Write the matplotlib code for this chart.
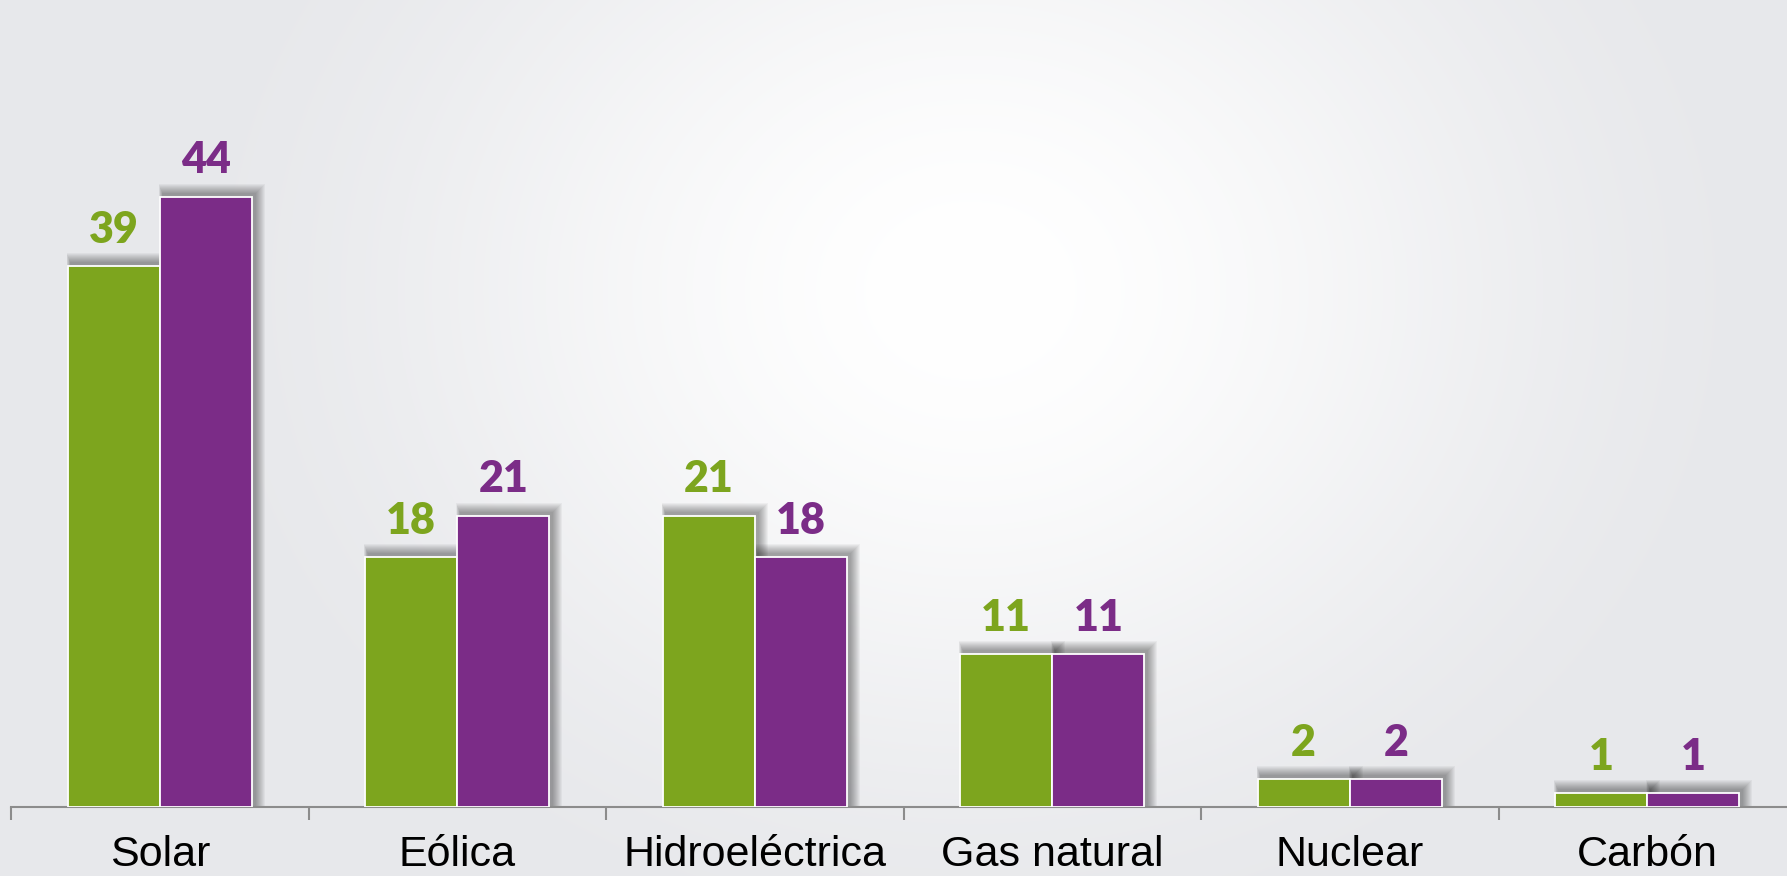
import numpy as np
import matplotlib
matplotlib.use('Agg')
import matplotlib.pyplot as plt
from matplotlib.patches import Rectangle

# Данные
categories = ['Solar', 'Eólica', 'Hidroeléctrica', 'Gas natural', 'Nuclear', 'Carbón']
serie_verde = [39, 18, 21, 11, 2, 1]
serie_morada = [44, 21, 18, 11, 2, 1]

verde = '#7DA51E'
morado = '#7B2C87'

W, H, DPI = 1787, 876, 100
fig = plt.figure(figsize=(W / DPI, H / DPI), dpi=DPI)

# Fondo con degradado radial
bg = fig.add_axes([0, 0, 1, 1])
yy, xx = np.mgrid[0:H, 0:W]
d = np.sqrt(((xx - 970) / 850.0) ** 2 + ((yy - 290) / 720.0) ** 2)
t = np.clip(d, 0, 1)
t = t * t * (3 - 2 * t)
borde = np.array([231, 232, 235]) / 255.0
img = 1 - t[..., None] * (1 - borde)
bg.imshow(img, aspect='auto', extent=[0, 1, 0, 1], origin='upper')
bg.set_axis_off()

# Ejes principales
ax = fig.add_axes([11 / W, 69 / H, 1785 / W, 1 - 69 / H])
ax.patch.set_alpha(0)
x = np.arange(len(categories))
bw = 0.31
ax.set_xlim(-0.5, len(categories) - 0.5)
ax.set_ylim(0, 58.2)

px_x = 1 / 297.5
px_y = 58.2 / 807

# Sombras suaves (desplazadas arriba y a la derecha)
for vals, off in [(serie_verde, -bw / 2), (serie_morada, bw / 2)]:
    for xi, v in zip(x, vals):
        for r in range(1, 11):
            x0 = xi + off - bw / 2 + 3 * px_x - r * 0.4 * px_x
            ax.add_patch(Rectangle((x0, 0), bw + r * 1.4 * px_x,
                                   v + (3 + r) * px_y,
                                   color='black', alpha=0.04, lw=0, zorder=1))

ax.bar(x - bw / 2, serie_verde, bw, color=verde, edgecolor='white', linewidth=1.3, zorder=3)
ax.bar(x + bw / 2, serie_morada, bw, color=morado, edgecolor='white', linewidth=1.3, zorder=3)

# Etiquetas de valores
for xi, v1, v2 in zip(x, serie_verde, serie_morada):
    ax.annotate(str(v1), (xi - bw / 2, v1), xytext=(0, 17), textcoords='offset points',
                ha='center', va='baseline', fontsize=31, fontweight='heavy',
                family='Lato', color=verde, zorder=4)
    ax.annotate(str(v2), (xi + bw / 2, v2), xytext=(0, 17), textcoords='offset points',
                ha='center', va='baseline', fontsize=31, fontweight='heavy',
                family='Lato', color=morado, zorder=4)

# Eje X
for s in ['top', 'right', 'left']:
    ax.spines[s].set_visible(False)
ax.spines['bottom'].set_color('#8C8C8C')
ax.spines['bottom'].set_linewidth(1.5)
ax.set_yticks([])
ax.set_xticks(np.arange(len(categories) + 1) - 0.5)
ax.set_xticklabels([])
ax.tick_params(axis='x', length=9, width=1.5, color='#8C8C8C', direction='out')

for xi, c in zip(x, categories):
    ax.text(xi, -59 / 807, c, transform=ax.get_xaxis_transform(),
            ha='center', va='baseline', fontsize=31, family='Liberation Sans', color='black',
            clip_on=False)

fig.savefig('out.png', dpi=DPI)
